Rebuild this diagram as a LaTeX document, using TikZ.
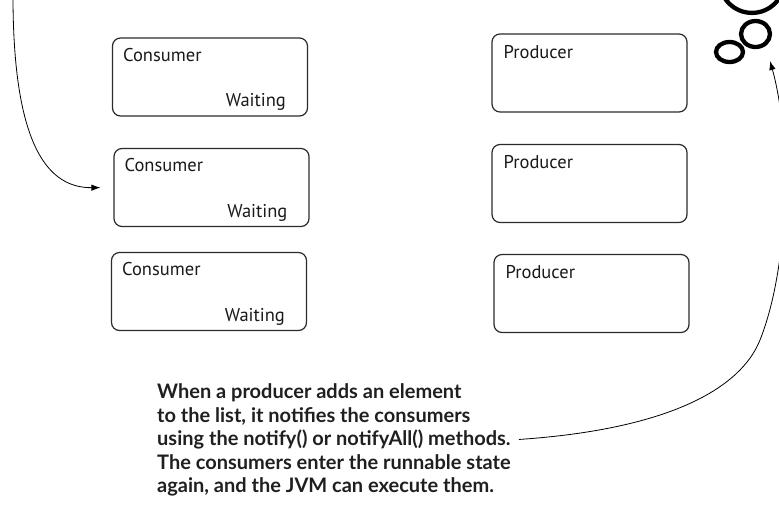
\documentclass[tikz,border=0pt]{standalone}
\usepackage{fontspec}
\setsansfont{PT Sans}
\newfontfamily\notefont{Lato}
\usetikzlibrary{arrows.meta,calc}
\definecolor{boxDraw}{HTML}{2B2B2B}
\tikzset{
  font=\sffamily\fontsize{18.5}{21}\selectfont,
  box/.style   ={draw=boxDraw, rounded corners=8pt, line width=1.2pt, minimum width=195pt, minimum height=78pt, inner sep=0pt},
  lbl/.style   ={inner sep=0pt, text=black!90},
  note/.style  ={align=left, inner sep=0pt, font=\notefont\bfseries\fontsize{20}{23.5}\selectfont, text=black!88},
  bubble/.style={line width=4.3pt},
  arr/.style   ={-{Latex[length=9pt, width=6.5pt]}, line width=0.8pt},
}

\begin{document}
\begin{tikzpicture}[x=1pt, y=-1pt]
  \useasboundingbox (0,0) rectangle (779,507);
  \clip (0,0) rectangle (779,507);

  % consumers (left column)
  \node[box] (c1) at (210,77)    {};
  \node[box] (c2) at (211.5,187.5) {};
  \node[box] (c3) at (209,291.5) {};
  \node[lbl, anchor=base west] (c1n) at ($(c1.north west)+(11,24)$)  {Consumer};
  \node[lbl, anchor=base east] (c1w) at ($(c1.south east)+(-22,-10)$) {Waiting};
  \node[lbl, anchor=base west] (c2n) at ($(c2.north west)+(11,24)$)  {Consumer};
  \node[lbl, anchor=base east] (c2w) at ($(c2.south east)+(-22,-10)$) {Waiting};
  \node[lbl, anchor=base west] (c3n) at ($(c3.north west)+(11,24)$)  {Consumer};
  \node[lbl, anchor=base east] (c3w) at ($(c3.south east)+(-22,-10)$) {Waiting};

  % producers (right column)
  \node[box] (p1) at (589.5,73)    {};
  \node[box] (p2) at (589.5,183.5) {};
  \node[box] (p3) at (591.5,293.5) {};
  \node[lbl, anchor=base west] (p1n) at ($(p1.north west)+(12,25)$) {Producer};
  \node[lbl, anchor=base west] (p2n) at ($(p2.north west)+(12,25)$) {Producer};
  \node[lbl, anchor=base west] (p3n) at ($(p3.north west)+(12,25)$) {Producer};

  % thought bubbles (top right)
  \draw[bubble] (752,-19.6) circle (32.5pt);
  \draw[bubble] (755.5,34) ellipse [x radius=14.5pt, y radius=13pt];
  \draw[bubble] (729.5,52) ellipse [x radius=13.5pt, y radius=10pt];

  % explanation
  \node[note, anchor=west] (note) at (157,440) {When a producer adds an element\\to the list, it notifies the consumers\\using the notify() or notifyAll() methods.\\The consumers enter the runnable state\\again, and the JVM can execute them.};

  % connectors
  \coordinate (topin) at (13,-4);
  \coordinate (tipR)  at (770,61);
  \draw[arr, shorten >=13pt] (topin) .. controls (13,150) and (50,188) .. (c2.west);
  \draw[arr, shorten <=8pt] (note.east) .. controls (673,429) and (741.5,386.5) .. (760,340)
                                       .. controls (789.6,265.6) and (791.6,137.8) .. (tipR);
\end{tikzpicture}
\end{document}
